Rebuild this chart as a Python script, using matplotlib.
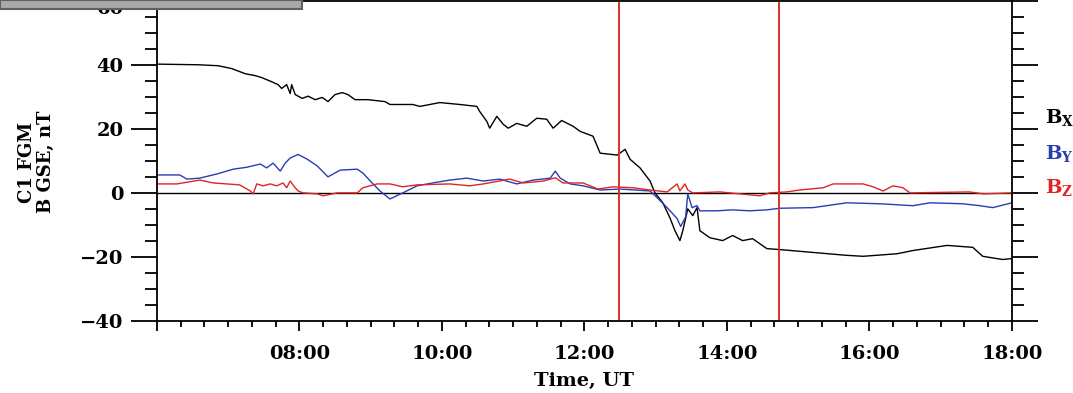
import matplotlib
matplotlib.use("Agg")
import matplotlib.pyplot as plt
import matplotlib.transforms as mtransforms
from matplotlib.ticker import MultipleLocator, FuncFormatter
from matplotlib.patches import Rectangle

# time in decimal hours UT, field in nT
bxTime = [6.00, 6.58, 6.86, 7.05, 7.24, 7.38, 7.47, 7.61, 7.70, 7.75, 7.82, 7.87,
          7.89, 7.94, 8.04, 8.12, 8.22, 8.32, 8.40, 8.50, 8.60, 8.68, 8.78, 8.96,
          9.20, 9.27, 9.59, 9.69, 9.97, 10.25, 10.49, 10.53, 10.63, 10.67, 10.77,
          10.86, 10.93, 11.05, 11.19, 11.33, 11.47, 11.56, 11.68, 11.84, 11.94,
          12.12, 12.22, 12.46, 12.57, 12.64, 12.78, 12.92, 12.99, 13.10, 13.20,
          13.27, 13.34, 13.38, 13.45, 13.52, 13.58, 13.62, 13.76, 13.94, 14.08,
          14.22, 14.36, 14.56, 14.74, 15.21, 15.68, 15.91, 16.39, 16.61, 17.09,
          17.45, 17.59, 17.87, 18.00]
bx = [40.2, 40, 39.7, 38.8, 37.2, 36.6, 36, 34.7, 33.8, 32.6, 33.8, 31,
      33.8, 30.7, 29.5, 30.2, 29.1, 29.8, 28.5, 30.7, 31.3, 30.7, 29.1, 29.1,
      28.5, 27.6, 27.6, 27, 28.2, 27.6, 27, 25.4, 22.3, 20.2, 23.9,
      21.4, 20.2, 21.7, 20.8, 23.3, 23, 20.2, 22.6, 20.8, 19.2,
      17.7, 12.4, 11.8, 13.6, 10.5, 7.8, 3.7, 0, -3.1, -7.8,
      -11.8, -14.9, -11.8, -5, -7.1, -4.6, -11.8, -14, -14.9, -13.3,
      -14.9, -14.3, -17.4, -17.7, -18.6, -19.5, -19.8, -19, -18, -16.4,
      -17, -19.8, -20.8, -20.5]

byTime = [6.00, 6.32, 6.42, 6.60, 6.84, 7.07, 7.26, 7.45, 7.54, 7.63, 7.73, 7.80,
          7.87, 7.98, 8.11, 8.25, 8.40, 8.57, 8.81, 8.89, 9.02, 9.13, 9.27, 9.45,
          9.65, 9.87, 10.11, 10.35, 10.58, 10.81, 11.05, 11.28, 11.52, 11.59, 11.66,
          11.80, 11.98, 12.22, 12.50, 12.92, 13.02, 13.16, 13.30, 13.35, 13.42,
          13.45, 13.51, 13.58, 13.62, 13.86, 14.08, 14.32, 14.56, 14.74, 15.21,
          15.68, 16.15, 16.61, 16.85, 17.31, 17.55, 17.73, 18.00]
by = [5.6, 5.6, 4.3, 4.6, 5.9, 7.4, 8, 9, 7.8, 9.3, 6.8, 9.3,
      10.9, 12, 10.5, 8.4, 5, 7.1, 7.4, 6.2, 3.1, 0.6, -1.9, 0,
      2.2, 3.1, 4, 4.6, 3.7, 4.3, 2.8, 4, 4.6, 6.8, 4.6,
      2.8, 2.2, 0.9, 1.2, 0.6, -1.5, -4.6, -8, -10.5, -7.5,
      -0.3, -4.6, -4, -5.6, -5.6, -5.3, -5.6, -5.3, -4.8, -4.6,
      -3.1, -3.4, -4, -3.1, -3.4, -4, -4.6, -3.1]

bzTime = [6.00, 6.28, 6.60, 6.79, 6.98, 7.16, 7.31, 7.35, 7.40, 7.49, 7.59, 7.68,
          7.77, 7.82, 7.87, 7.94, 7.98, 8.05, 8.25, 8.33, 8.53, 8.81, 8.89, 9.09,
          9.27, 9.45, 9.65, 10.11, 10.39, 10.58, 10.95, 11.14, 11.42, 11.59, 11.70,
          11.98, 12.19, 12.40, 12.68, 12.92, 13.16, 13.30, 13.34, 13.41, 13.45,
          13.52, 13.90, 14.18, 14.46, 14.60, 14.84, 15.02, 15.35, 15.49, 15.91,
          16.05, 16.19, 16.33, 16.47, 16.57, 17.40, 17.60, 18.00]
bz = [2.8, 2.8, 4, 3.1, 2.8, 2.5, 0.6, -0.3, 2.8, 2.2, 2.8, 2.2,
      3.1, 1.6, 3.7, 1.6, 0.6, 0, -0.3, -0.9, 0, 0, 1.6, 2.8,
      2.8, 1.9, 2.5, 2.8, 2.2, 2.8, 4.3, 3.1, 3.7, 4.7, 3.1,
      3.1, 1.2, 1.9, 1.6, 0.9, 0.3, 2.8, 0.6, 2.8, 0.9,
      0, 0.3, -0.3, -0.9, 0, 0.3, 0.9, 1.6, 2.8, 2.8,
      1.9, 0.6, 2.2, 1.6, 0, 0.3, -0.3, 0]

markerTimes = [12.48, 14.73]

blue = "#2a3cb4"
red = "#e02424"

plt.rcParams['font.family'] = ['DejaVu Serif']
plt.rcParams['mathtext.fontset'] = 'dejavuserif'

fig = plt.figure(figsize=(10.73, 3.93), dpi=100)
ax = fig.add_axes([0.1463, 0.1832, 0.7968, 0.815])

ax.axhline(0, color="black", linewidth=1.0)
ax.plot(bxTime, bx, color="black", linewidth=1.0)
ax.plot(byTime, by, color=blue, linewidth=1.0)
ax.plot(bzTime, bz, color=red, linewidth=1.0)
for t in markerTimes:
    ax.axvline(t, color="#d83030", linewidth=1.4)

ax.set_xlim(6, 18)
ax.set_ylim(-40, 60)

ax.xaxis.set_major_locator(MultipleLocator(2))
ax.xaxis.set_minor_locator(MultipleLocator(1 / 3))
ax.set_yticks([-40, -20, 0, 20, 40, 60])
ax.yaxis.set_minor_locator(MultipleLocator(5))
ax.xaxis.set_major_formatter(FuncFormatter(lambda h, p: "" if h < 7 else f"{int(round(h)):02d}:00"))

ax.tick_params(axis="y", which="major", direction="out", length=19, width=1.3,
               right=True, pad=5, labelsize=14)
ax.tick_params(axis="y", which="minor", direction="out", length=8.5, width=1.3, right=True)
ax.tick_params(axis="x", which="major", direction="out", length=7.5, width=1.3,
               pad=10, labelsize=14)
ax.tick_params(axis="x", which="minor", direction="out", length=4, width=1.3)
for lab in ax.get_xticklabels() + ax.get_yticklabels():
    lab.set_fontweight("bold")
for s in ax.spines.values():
    s.set_linewidth(1.3)

# the top label sits half under the grey bar, nudge it down like the original
topLabel = ax.get_yticklabels()[-1]
topLabel.set_transform(topLabel.get_transform() +
                       mtransforms.ScaledTranslation(0, -4.5 / 72, fig.dpi_scale_trans))

fig.text(0.5447, 0.031, "Time, UT", ha="center", va="center", fontsize=14, fontweight="bold")
fig.text(0.034, 0.588, "C1 FGM\nB GSE, nT", rotation=90, ha="center", va="center",
         multialignment="center", fontsize=13, fontweight="bold", linespacing=1.1)

fig.text(0.974, 1 - 118 / 393, r"$\mathbf{B_X}$", color="black", fontsize=14, ha="left", va="center")
fig.text(0.974, 1 - 153 / 393, r"$\mathbf{B_Y}$", color=blue, fontsize=14, ha="left", va="center")
fig.text(0.974, 1 - 187 / 393, r"$\mathbf{B_Z}$", color=red, fontsize=14, ha="left", va="center")

# grey title bar stub in the top-left corner
fig.patches.append(Rectangle((0, 1 - 9 / 393), 302 / 1073, 9 / 393, transform=fig.transFigure,
                             facecolor="#a8a8a8", edgecolor="#606060", linewidth=1.5, zorder=10))

fig.savefig("out.png", dpi=100)
